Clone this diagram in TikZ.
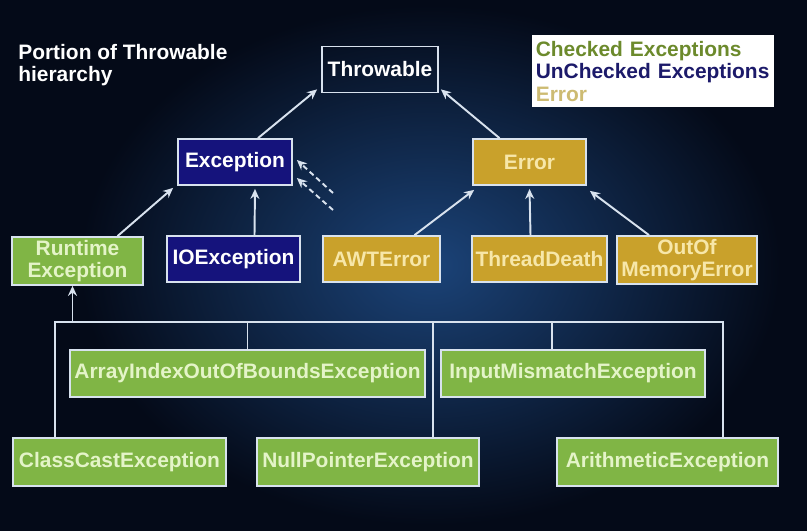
\documentclass[tikz,border=0pt]{standalone}
\usepackage{fontspec}
\setmainfont{Liberation Sans}
\usepackage{xcolor}
\usepackage{tikz}
\usetikzlibrary{positioning,arrows.meta,calc}
\definecolor{bgdark}{HTML}{040A18}
\definecolor{bgglow}{HTML}{1B4378}
\definecolor{rule}{HTML}{D8E2EE}
\definecolor{chkfill}{HTML}{80B545}
\definecolor{chktext}{HTML}{E4F4C8}
\definecolor{unchkfill}{HTML}{15137C}
\definecolor{errfill}{HTML}{C9A12B}
\definecolor{errtext}{HTML}{F7E7A9}
\definecolor{legchk}{HTML}{6C8A2C}
\definecolor{legunchk}{HTML}{1C1A6A}
\definecolor{legerr}{HTML}{CDBB72}

\begin{document}
\begin{tikzpicture}[x=0.02cm,y=-0.02cm,
  font=\fontsize{11.9}{12.8}\selectfont\bfseries,
  box/.style={draw=rule,line width=1pt,minimum height=0.92cm,inner sep=1pt,align=center},
  topbox/.style={box,text=white},
  chk/.style={box,fill=chkfill,text=chktext},
  unchk/.style={box,fill=unchkfill,text=white},
  errbox/.style={box,fill=errfill,text=errtext},
  link/.style={draw=rule,line width=1.1pt},
  up/.style={link,-{Stealth[length=2mm,width=1.8mm]}}]

  % background
  \useasboundingbox (0,0) rectangle (807,531);
  \fill[bgdark] (0,0) rectangle (807,531);
  \shade[inner color=bgglow,outer color=bgdark] (430,265) ellipse (350 and 260);

  % title and legend
  \node[text=white,align=left,anchor=north west,inner sep=0pt] (title) at (18,44)
    {Portion of Throwable\\hierarchy};
  \node[fill=white,anchor=north west,minimum width=4.84cm,minimum height=1.4cm,
    text width=4.7cm,align=left,inner xsep=0.07cm] (legend) at (532,35)
    {\textcolor{legchk}{Checked Exceptions}\\
     \textcolor{legunchk}{UnChecked Exceptions}\\
     \textcolor{legerr}{Error}};

  % upper levels
  \node[topbox,minimum width=2.32cm] (throw) at (380,69.5) {Throwable};
  \node[unchk,minimum width=2.28cm] (exc) at (235,162) {Exception};
  \node[errbox,minimum width=2.26cm] (error) at (529.5,162) {Error};

  \node[chk,minimum width=2.62cm,minimum height=0.96cm] (runtime) at (77.5,261)
    {Runtime\\Exception};
  \node[unchk,minimum width=2.66cm] (ioexc) at (233.5,259) {IOException};
  \node[errbox,minimum width=2.34cm] (awt) at (381.5,259) {AWTError};
  \node[errbox,minimum width=2.7cm] (thread) at (539.5,259) {ThreadDeath};
  \node[errbox,minimum width=2.8cm,minimum height=0.96cm] (oom) at (687,260)
    {OutOf\\MemoryError};

  % runtime subclasses
  \node[chk,minimum width=7.1cm,minimum height=0.94cm] (array) at (247.5,373.5)
    {ArrayIndexOutOfBoundsException};
  \node[chk,minimum width=5.28cm,minimum height=0.94cm] (input) at (573,373.5)
    {InputMismatchException};
  \node[chk,minimum width=4.26cm,minimum height=0.96cm] (cast) at (119.5,462)
    {ClassCastException};
  \node[chk,minimum width=4.44cm,minimum height=0.96cm] (nullp) at (368,462)
    {NullPointerException};
  \node[chk,minimum width=4.42cm,minimum height=0.96cm] (arith) at (667.5,462)
    {ArithmeticException};

  % inheritance arrows
  \draw[up] ($(exc.north)+(23,0)$) -- ($(throw.south west)+(-4,-4)$);
  \draw[up] ($(error.north)+(-30,0)$) -- ($(throw.south east)+(2,-4)$);
  \draw[up] ($(runtime.north)+(40,0)$) -- ($(exc.south west)+(-4,2)$);
  \draw[up] ($(ioexc.north)+(21,0)$) -- ($(exc.south)+(20,3)$);
  \draw[up] ($(awt.north)+(33,0)$) -- ($(error.south west)+(2,4)$);
  \draw[up] ($(thread.north)+(-9,0)$) -- ($(error.south)+(0,3)$);
  \draw[up] ($(oom.north)+(-38,0)$) -- ($(error.south east)+(3,5)$);

  \coordinate (d1) at (333,193);
  \coordinate (d2) at (333,210);
  \draw[up,dash pattern=on 3pt off 2pt] (d1) -- ($(exc.east)+(4,-2)$);
  \draw[up,dash pattern=on 3pt off 2pt] (d2) -- ($(exc.east)+(4,16)$);

  % tree under runtime
  \coordinate (barL) at (55,322);
  \coordinate (barR) at (723,322);
  \coordinate (rtFoot) at ($(runtime.south)+(-5,0)$);
  \coordinate (inTop) at ($(input.north)+(-21,0)$);
  \coordinate (npTop) at ($(nullp.north)+(65,0)$);
  \draw[link] (cast.north -| barL) -- (barL) -- (barR) -- (arith.north -| barR);
  \draw[up] (rtFoot |- barL) -- (rtFoot);
  \draw[link] (array.north) -- (array.north |- barL);
  \draw[link] (inTop) -- (inTop |- barL);
  \draw[link] (npTop) -- (npTop |- barL);

\end{tikzpicture}
\end{document}
